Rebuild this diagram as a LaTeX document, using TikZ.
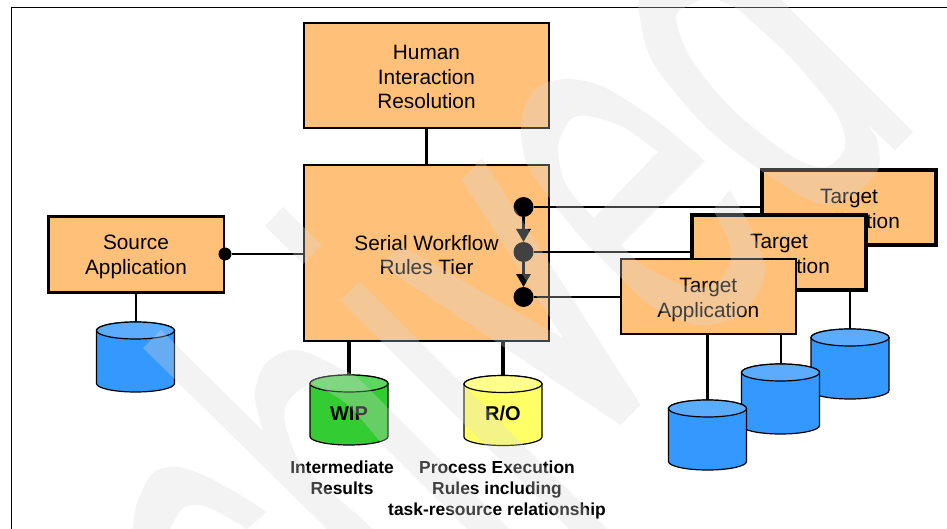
\documentclass[tikz,border=0pt]{standalone}
\usepackage{fontspec}
\setmainfont{Liberation Sans}
\usetikzlibrary{arrows.meta,calc}
\definecolor{boxfill}{RGB}{255,192,122}
\definecolor{dbblue}{RGB}{51,153,255}
\definecolor{dbbluetop}{RGB}{91,171,255}
\definecolor{dbgreen}{RGB}{51,204,51}
\definecolor{dbgreentop}{RGB}{92,214,92}
\definecolor{dbyellow}{RGB}{255,255,102}
\definecolor{dbyellowtop}{RGB}{255,255,140}
\definecolor{wmark}{gray}{0.85}
\tikzset{
  x=1pt,y=-1pt,
  appbox/.style={draw=black,fill=boxfill,align=center,inner sep=0pt,outer sep=0pt,
    font=\fontsize{20.8}{24.5}\selectfont},
  wire/.style={draw=black,line width=2pt},
  thickwire/.style={draw=black,line width=3.2pt},
  joint/.style={circle,fill=black,inner sep=0pt,minimum size=20pt,outer sep=0pt},
  flow/.style={draw=black,line width=3pt,-{Triangle[width=14pt,length=13pt]}},
  dblabel/.style={inner sep=0pt,outer sep=0pt,minimum width=78pt,minimum height=76pt,
    text height=14pt,text depth=0pt,font=\fontsize{20}{24}\selectfont\bfseries},
  caption/.style={align=center,inner sep=0pt,font=\fontsize{17.4}{21}\selectfont\bfseries},
  wm/.style={fill=wmark,fill opacity=0.3,draw=none}
}
\newcommand{\tp}[1]{\rule{0pt}{#1pt}}
% name, centre x, top y, body colour, top colour, label
\newcommand{\dbcyl}[6]{%
  \path[fill=#4,draw=black,line width=1.2pt] (#2-39,#3+8.5)
     -- (#2-39,#3+61.5) arc[start angle=180,end angle=360,x radius=39,y radius=-8.5]
     -- (#2+39,#3+8.5) arc[start angle=0,end angle=180,x radius=39,y radius=-8.5] -- cycle;
  \path[fill=#5,draw=black,line width=1.2pt] (#2,#3+8.5) ellipse[x radius=39,y radius=8.5];
  \node[dblabel] (#1) at (#2,#3+38) {#6};
}
\begin{document}
\begin{tikzpicture}
\useasboundingbox (0,0) rectangle (947,529);
\fill[white] (0,0) rectangle (947,529);
% frame
\coordinate (fbl) at (11.5,529);
\coordinate (ftl) at (11.5,7.5);
\coordinate (ftr) at (947,7.5);
\draw[black,line width=1pt] (fbl) -- (ftl) -- (ftr);

% human and serial tier
\node[appbox,line width=2pt,minimum width=245pt,minimum height=105pt] (human) at (426.5,76) {\tp{17}Human\\Interaction\\Resolution};
\node[appbox,line width=2pt,minimum width=245pt,minimum height=175pt] (serial) at (426.5,253) {\tp{19}Serial Workflow\\Rules Tier};
\draw[thickwire] (human) -- (serial);

% source
\node[appbox,line width=2.5pt,minimum width=175.5pt,minimum height=76pt] (source) at (136,254.5) {\tp{19}Source\\Application};
\dbcyl{dbsource}{135.5}{322}{dbblue}{dbbluetop}{}
\draw[wire] (source.south -| dbsource.north) -- (dbsource.north);
\node[joint,minimum size=13pt] (sdot) at (225,254) {};
\draw[thickwire,line width=2.5pt] (sdot) -- (sdot -| serial.west);

% WIP, R/O
\dbcyl{wip}{349}{375}{dbgreen}{dbgreentop}{WIP}
\dbcyl{ro}{503}{375.5}{dbyellow}{dbyellowtop}{R/O}
\draw[thickwire] (wip.north |- serial.south) -- (wip.north);
\draw[thickwire] (ro.north |- serial.south) -- (ro.north);
\node[caption,anchor=north] (wipcap) at (342,461) {Intermediate\\Results};
\node[caption,anchor=north] (rocap) at (497,461) {Process Execution\\Rules including\\task-resource relationship};

% joints
\node[joint] (d1) at (523.5,207) {};
\node[joint] (d2) at (523.5,252) {};
\node[joint] (d3) at (523.5,297) {};
\draw[flow] (d1) -- (d2);
\draw[flow] (d2) -- (d3);

% targets, back to front
\dbcyl{db3}{850}{329}{dbblue}{dbbluetop}{}
\node[appbox,line width=4.5pt,minimum width=174pt,minimum height=75pt] (t3) at (849,207.5) {\tp{21}Target\\Application};
\draw[wire] (t3.south -| db3.north) -- (db3.north);
\draw[wire] (d1) -- (d1 -| t3.west);
\dbcyl{db2}{780.5}{364}{dbblue}{dbbluetop}{}
\node[appbox,line width=4pt,minimum width=174pt,minimum height=75pt] (t2) at (779,252.5) {\tp{21}Target\\Application};
\draw[wire] (t2.south -| db2.north) -- (db2.north);
\draw[wire] (d2) -- (d2 -| t2.west);
\dbcyl{db1}{707.5}{400}{dbblue}{dbbluetop}{}
\node[appbox,line width=2pt,minimum width=175pt,minimum height=75pt] (t1) at (708.3,296.5) {\tp{21}Target\\Application};
\draw[thickwire] (t1.south -| db1.north) -- (db1.north);
\draw[wire] (d3) -- (d3 -| t1.west);

% watermark
\begin{scope}
\clip (0,0) rectangle (947,529);
\path[wm] (283,207) -- (322,245) -- (303,264) -- (265,226) -- cycle;
\path[wm] (360,282) -- (607,529) -- (569,529) -- (340,300) -- cycle;
\path[wm] (482,158) -- (640.6,405) -- (620.6,425) -- (378,263) -- (403,247) -- (563,338) -- (462,180) -- cycle;
\path[wm] plot[smooth] coordinates {(133,529) (137,503) (153,473) (177,467) (203,475) (237,493) (267,512)}
   -- plot[smooth] coordinates {(247,529) (220,513) (200,505) (183,508) (170,529)} -- cycle;
\path[wm] (143,348) -- (161,330)
   -- plot[smooth] coordinates {(263,431) (256,405) (255,390) (263,367) (280,353) (297,350) (320,358) (357,377)}
   -- (388,408) -- (509,529) -- (467,529)
   -- plot[smooth] coordinates {(383,445) (350,407) (325,390) (310,385) (297,392) (286,405) (285,423) (297,457) (320,483) (360,517) (372,529)}
   -- (327,529) -- cycle;
\path[wm,even odd rule] plot[smooth] coordinates {(705,161) (660,123) (606,88) (570,79) (540,85) (525,105) (521,133) (530,170) (577,233) (620,277) (653,307) (700,325) (743,313) (765,273) (753,233) (730,190)}
   -- plot[smooth] coordinates {(713,210) (728,240) (730,263) (717,283) (697,288) (670,280) (640,263) (621,245)} -- cycle
   plot[smooth] coordinates {(658,152) (623,127) (588,116) (570,120) (558,147) (566,185) (594,218)} -- cycle;
\path[wm,even odd rule] plot[smooth] coordinates {(640,-2) (639,13) (653,63) (706,127) (763,172) (817,203) (850,197) (878,170) (877,140) (866,123)}
   -- (895,150) -- (913,132) -- (781,0) -- (781,-2) -- cycle
   plot[smooth cycle] coordinates {(676,17) (690,5) (710,-2) (736,8) (750,20) (793,60) (836,113) (845,147) (826,167) (793,157) (733,110) (690,57)};
\end{scope}
\end{tikzpicture}
\end{document}
